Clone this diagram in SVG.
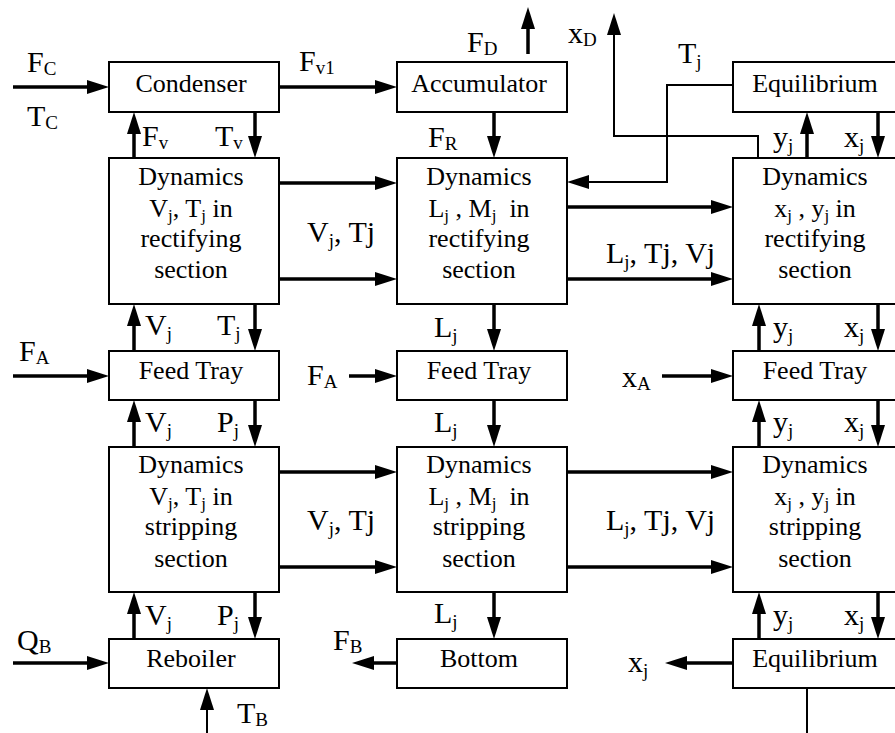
<svg xmlns="http://www.w3.org/2000/svg" width="895" height="733" viewBox="0 0 895 733">
<style>
.box{fill:#fff;stroke:#000;stroke-width:2}
.bt{font-family:"Liberation Serif","Times New Roman",serif;font-size:26px;text-anchor:middle;fill:#000}
.lb{font-family:"Liberation Serif","Times New Roman",serif;font-size:30px;fill:#000}
.s{font-size:19px}
.bs{font-size:17px}
.c{fill:none;stroke:#000;stroke-width:3.5}
.t{fill:none;stroke:#000;stroke-width:2}
.a{marker-end:url(#ah)}
</style>
<defs>
<marker id="ah" markerUnits="userSpaceOnUse" markerWidth="22" markerHeight="14" viewBox="0 0 22 14" refX="14" refY="7" orient="auto"><path d="M0,0 L22,7 L0,14 z" fill="#000"/></marker>
</defs>
<rect width="895" height="733" fill="#fff"/>
<g id="connectors">
<path class="c a" d="M13,87 H101"/>
<path class="c a" d="M279,87 H389"/>
<path class="c a" d="M528,54 V15"/>
<path class="c a" d="M494,112 V150"/>
<path class="c a" d="M134,158 V120"/>
<path class="c a" d="M255,112 V150"/>
<path class="c a" d="M807,158 V120"/>
<path class="c a" d="M878,112 V150"/>
<path class="c a" d="M279,183 H389"/>
<path class="c a" d="M279,279 H389"/>
<path class="c a" d="M567,207 H725"/>
<path class="c a" d="M567,279 H725"/>
<path class="c a" d="M134,351 V312"/>
<path class="c a" d="M255,304 V343"/>
<path class="c a" d="M13,376 H101"/>
<path class="c a" d="M494,304 V343"/>
<path class="c a" d="M349,376 H389"/>
<path class="c a" d="M662,376 H725"/>
<path class="c a" d="M759,351 V312"/>
<path class="c a" d="M878,304 V343"/>
<path class="c a" d="M134,447 V408"/>
<path class="c a" d="M255,400 V439"/>
<path class="c a" d="M494,400 V439"/>
<path class="c a" d="M759,447 V408"/>
<path class="c a" d="M878,400 V439"/>
<path class="c a" d="M279,472 H389"/>
<path class="c a" d="M279,567 H389"/>
<path class="c a" d="M567,472 H725"/>
<path class="c a" d="M567,567 H725"/>
<path class="c a" d="M134,639 V600"/>
<path class="c a" d="M255,592 V631"/>
<path class="c a" d="M494,592 V631"/>
<path class="c a" d="M759,639 V600"/>
<path class="c a" d="M878,592 V631"/>
<path class="c a" d="M13,663 H101"/>
<path class="c a" d="M397,663 H360"/>
<path class="c a" d="M733,663 H673"/>
<path class="t a" d="M758,158 V136 H614 V21"/>
<path class="t a" d="M733,85 H667 V182 H575"/>
<path class="t a" d="M207,733 V696"/>
<path class="t" d="M807,688 V733"/>
</g>
<g id="condenser"><rect class="box" x="109" y="62" width="170" height="50"/><text class="bt" x="191" y="92">Condenser</text></g>
<g id="accumulator"><rect class="box" x="397" y="62" width="170" height="50"/><text class="bt" x="479" y="92">Accumulator</text></g>
<g id="equilibrium-top"><rect class="box" x="733" y="62" width="170" height="50"/><text class="bt" x="815" y="92">Equilibrium</text></g>
<g id="dyn-vt-rect"><rect class="box" x="109" y="158" width="170" height="146"/>
<text class="bt" x="191" y="185">Dynamics</text>
<text class="bt" x="191" y="217">V<tspan class="bs" dy="4">j</tspan><tspan dy="-4">, T</tspan><tspan class="bs" dy="4">j</tspan><tspan dy="-4"> in</tspan></text>
<text class="bt" x="191" y="247">rectifying</text>
<text class="bt" x="191" y="278">section</text></g>
<g id="dyn-lm-rect"><rect class="box" x="397" y="158" width="170" height="146"/>
<text class="bt" x="479" y="185">Dynamics</text>
<text class="bt" x="479" y="217" xml:space="preserve">L<tspan class="bs" dy="4">j</tspan><tspan dy="-4"> , M</tspan><tspan class="bs" dy="4">j</tspan><tspan dy="-4">  in</tspan></text>
<text class="bt" x="479" y="247">rectifying</text>
<text class="bt" x="479" y="278">section</text></g>
<g id="dyn-xy-rect"><rect class="box" x="733" y="158" width="170" height="146"/>
<text class="bt" x="815" y="185">Dynamics</text>
<text class="bt" x="815" y="217">x<tspan class="bs" dy="4">j</tspan><tspan dy="-4"> , y</tspan><tspan class="bs" dy="4">j</tspan><tspan dy="-4"> in</tspan></text>
<text class="bt" x="815" y="247">rectifying</text>
<text class="bt" x="815" y="278">section</text></g>
<g id="feed-left"><rect class="box" x="109" y="351" width="170" height="49"/><text class="bt" x="191" y="379">Feed Tray</text></g>
<g id="feed-mid"><rect class="box" x="397" y="351" width="170" height="49"/><text class="bt" x="479" y="379">Feed Tray</text></g>
<g id="feed-right"><rect class="box" x="733" y="351" width="170" height="49"/><text class="bt" x="815" y="379">Feed Tray</text></g>
<g id="dyn-vt-strip"><rect class="box" x="109" y="447" width="170" height="145"/>
<text class="bt" x="191" y="473">Dynamics</text>
<text class="bt" x="191" y="505">V<tspan class="bs" dy="4">j</tspan><tspan dy="-4">, T</tspan><tspan class="bs" dy="4">j</tspan><tspan dy="-4"> in</tspan></text>
<text class="bt" x="191" y="535">stripping</text>
<text class="bt" x="191" y="567">section</text></g>
<g id="dyn-lm-strip"><rect class="box" x="397" y="447" width="170" height="145"/>
<text class="bt" x="479" y="473">Dynamics</text>
<text class="bt" x="479" y="505" xml:space="preserve">L<tspan class="bs" dy="4">j</tspan><tspan dy="-4"> , M</tspan><tspan class="bs" dy="4">j</tspan><tspan dy="-4">  in</tspan></text>
<text class="bt" x="479" y="535">stripping</text>
<text class="bt" x="479" y="567">section</text></g>
<g id="dyn-xy-strip"><rect class="box" x="733" y="447" width="170" height="145"/>
<text class="bt" x="815" y="473">Dynamics</text>
<text class="bt" x="815" y="505">x<tspan class="bs" dy="4">j</tspan><tspan dy="-4"> , y</tspan><tspan class="bs" dy="4">j</tspan><tspan dy="-4"> in</tspan></text>
<text class="bt" x="815" y="535">stripping</text>
<text class="bt" x="815" y="567">section</text></g>
<g id="reboiler"><rect class="box" x="109" y="639" width="170" height="49"/><text class="bt" x="191" y="667">Reboiler</text></g>
<g id="bottom"><rect class="box" x="397" y="639" width="170" height="49"/><text class="bt" x="479" y="667">Bottom</text></g>
<g id="equilibrium-bottom"><rect class="box" x="733" y="639" width="170" height="49"/><text class="bt" x="815" y="667">Equilibrium</text></g>
<g id="labels">
<text class="lb" x="27" y="72">F<tspan class="s" dy="3">C</tspan></text>
<text class="lb" x="27" y="126">T<tspan class="s" dy="3">C</tspan></text>
<text class="lb" x="299" y="71">F<tspan class="s" dy="3">v1</tspan></text>
<text class="lb" x="467" y="52">F<tspan class="s" dy="3">D</tspan></text>
<text class="lb" x="568" y="43">x<tspan class="s" dy="3">D</tspan></text>
<text class="lb" x="678" y="63">T<tspan class="s" dy="5">j</tspan></text>
<text class="lb" x="142" y="146">F<tspan class="s" dy="3">v</tspan></text>
<text class="lb" x="215" y="146">T<tspan class="s" dy="3">v</tspan></text>
<text class="lb" x="428" y="147">F<tspan class="s" dy="3">R</tspan></text>
<text class="lb" x="773" y="147">y<tspan class="s" dy="5">j</tspan></text>
<text class="lb" x="844" y="147">x<tspan class="s" dy="5">j</tspan></text>
<text class="lb" x="307" y="242">V<tspan class="s" dy="5">j</tspan><tspan dy="-5">, Tj</tspan></text>
<text class="lb" x="606" y="263">L<tspan class="s" dy="5">j</tspan><tspan dy="-5">, Tj, Vj</tspan></text>
<text class="lb" x="145" y="335">V<tspan class="s" dy="5">j</tspan></text>
<text class="lb" x="217" y="335">T<tspan class="s" dy="5">j</tspan></text>
<text class="lb" x="19" y="361">F<tspan class="s" dy="3">A</tspan></text>
<text class="lb" x="434" y="337">L<tspan class="s" dy="5">j</tspan></text>
<text class="lb" x="307" y="385">F<tspan class="s" dy="3">A</tspan></text>
<text class="lb" x="622" y="387">x<tspan class="s" dy="3">A</tspan></text>
<text class="lb" x="773" y="337">y<tspan class="s" dy="5">j</tspan></text>
<text class="lb" x="844" y="337">x<tspan class="s" dy="5">j</tspan></text>
<text class="lb" x="145" y="432">V<tspan class="s" dy="5">j</tspan></text>
<text class="lb" x="217" y="432">P<tspan class="s" dy="5">j</tspan></text>
<text class="lb" x="434" y="432">L<tspan class="s" dy="5">j</tspan></text>
<text class="lb" x="773" y="432">y<tspan class="s" dy="5">j</tspan></text>
<text class="lb" x="844" y="432">x<tspan class="s" dy="5">j</tspan></text>
<text class="lb" x="307" y="530">V<tspan class="s" dy="5">j</tspan><tspan dy="-5">, Tj</tspan></text>
<text class="lb" x="606" y="530">L<tspan class="s" dy="5">j</tspan><tspan dy="-5">, Tj, Vj</tspan></text>
<text class="lb" x="145" y="625">V<tspan class="s" dy="5">j</tspan></text>
<text class="lb" x="217" y="625">P<tspan class="s" dy="5">j</tspan></text>
<text class="lb" x="434" y="623">L<tspan class="s" dy="5">j</tspan></text>
<text class="lb" x="773" y="625">y<tspan class="s" dy="5">j</tspan></text>
<text class="lb" x="844" y="625">x<tspan class="s" dy="5">j</tspan></text>
<text class="lb" x="17" y="650">Q<tspan class="s" dy="3">B</tspan></text>
<text class="lb" x="333" y="650">F<tspan class="s" dy="3">B</tspan></text>
<text class="lb" x="628" y="672">x<tspan class="s" dy="5">j</tspan></text>
<text class="lb" x="237" y="723">T<tspan class="s" dy="3">B</tspan></text>
</g>
</svg>
